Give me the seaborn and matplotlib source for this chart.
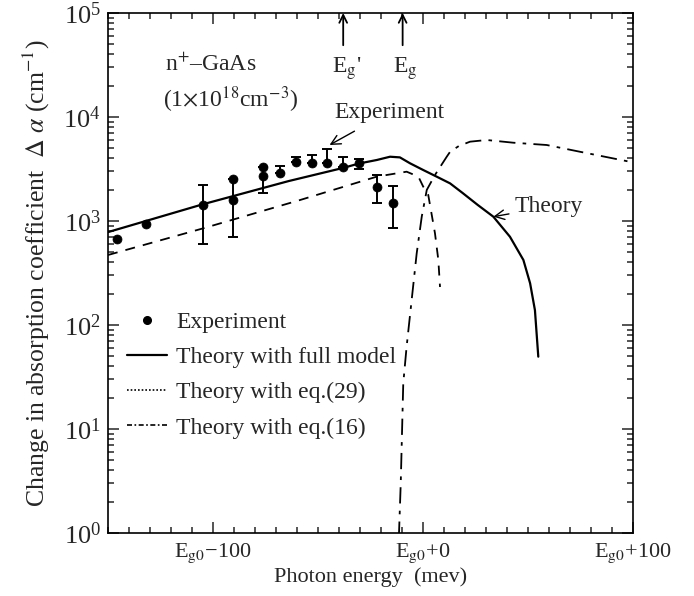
import matplotlib
matplotlib.use("Agg")
import matplotlib.pyplot as plt
import seaborn as sns
import pandas as pd
from matplotlib.lines import Line2D
from matplotlib.ticker import LogLocator, MultipleLocator, NullFormatter

# ---------------- data ----------------
# Theory with full model (solid)
full_x = [-150, -105, -64, -38, -30.5, -22, -15.7, -11, -6.2, 0, 6.5, 12.9, 19, 26, 33.5, 41.4, 47.8, 51, 53.3, 54.9]
full_y = [782, 1445, 2420, 3240, 3570, 3860, 4150, 4090, 3590, 3100, 2670, 2300, 1850, 1430, 1100, 706, 422, 252, 139, 49.6]

# Theory with eq.(29) (dashed)
eq29_x = [-150, -104.6, -58.6, -22, -7.8, -2.2, 0.1, 2.5, 5.7, 7.3, 8.1]
eq29_y = [471, 851, 1590, 2670, 2980, 2670, 2140, 1780, 762, 422, 232]

# Theory with eq.(16) (dash-dot)
eq16_x = [-11.5, -10.6, -10, -9.4, -7.8, -5.4, -3, -0.6, 1.8, 5.7, 11.3, 12.9, 17, 22.4, 30.3, 43, 58.9, 74.8, 98.6, 100]
eq16_y = [0.9, 3.0, 9.1, 27.5, 62, 174, 489, 1100, 1990, 2770, 4150, 4630, 5250, 5790, 6010, 5660, 5380, 4630, 3710, 3620]

# Experiment points
exp_x = [-145.6, -132, -104.6, -90.3, -90.3, -76, -76, -68.1, -60.7, -53, -45.9, -38, -30.3, -22, -14.4]
exp_y = [676, 929, 1425, 1590, 2520, 2710, 3330, 2910, 3690, 3590, 3640, 3330, 3590, 2140, 1480]

# Experimental error bars (x, lower, upper)
bar_x = [-104.6, -90.3, -76, -68.1, -60.7, -53, -45.9, -38, -30.3, -22, -14.4]
bar_lo = [597, 697, 1870, 2910, 3690, 3590, 3640, 3330, 3140, 1500, 851]
bar_hi = [2220, 2520, 3330, 3380, 4150, 4310, 4900, 4090, 3920, 2770, 2170]

# Band-gap markers
gap_x = [-38, -9.7]
gap_labels = ["E$_{\\mathrm{g}}$'", "E$_{\\mathrm{g}}$"]

x_ticks = [-100, 0, 100]
x_tick_labels = ["E$_{\\mathrm{g0}}$\u2212100", "E$_{\\mathrm{g0}}$+0", "E$_{\\mathrm{g0}}$+100"]

legend_labels = ["Experiment", "Theory with full model", "Theory with eq.(29)", "Theory with eq.(16)"]

# ---------------- style ----------------
sns.set_style("ticks")
plt.rcParams["font.family"] = ["Liberation Serif", "DejaVu Serif"]
plt.rcParams["mathtext.fontset"] = "stix"
plt.rcParams["axes.linewidth"] = 1.2

fig = plt.figure(figsize=(6.94, 5.96), dpi=100)
ax = fig.add_axes([108 / 694, 1 - 533 / 596, 525 / 694, 520 / 596])

df_full = pd.DataFrame({"x": full_x, "y": full_y})
df_29 = pd.DataFrame({"x": eq29_x, "y": eq29_y})
df_16 = pd.DataFrame({"x": eq16_x, "y": eq16_y})
df_exp = pd.DataFrame({"x": exp_x, "y": exp_y})

sns.lineplot(data=df_full, x="x", y="y", sort=False, estimator=None, color="black", lw=1.6, ax=ax)
sns.lineplot(data=df_29, x="x", y="y", sort=False, estimator=None, color="black", lw=1.3,
             linestyle=(0, (5.5, 4.5)), ax=ax)
sns.lineplot(data=df_16, x="x", y="y", sort=False, estimator=None, color="black", lw=1.3,
             linestyle=(0, (9, 4, 2, 4)), ax=ax)

mid = [(l + h) / 2 for l, h in zip(bar_lo, bar_hi)]
ax.errorbar(bar_x, mid, yerr=[[m - l for m, l in zip(mid, bar_lo)], [h - m for h, m in zip(bar_hi, mid)]],
            fmt="none", ecolor="black", elinewidth=1.4, capsize=3.5, capthick=1.4, zorder=3)
sns.scatterplot(data=df_exp, x="x", y="y", color="black", s=42, edgecolor="black", linewidth=0.5,
                zorder=4, ax=ax)

ax.set_yscale("log")
ax.set_xlim(-150, 100)
ax.set_ylim(1, 1e5)

ax.set_xticks(x_ticks)
ax.set_xticklabels(x_tick_labels)
ax.xaxis.set_minor_locator(MultipleLocator(10))
ax.yaxis.set_major_locator(LogLocator(base=10, numticks=10))
ax.yaxis.set_minor_locator(LogLocator(base=10, subs=range(2, 10), numticks=20))
ax.yaxis.set_minor_formatter(NullFormatter())

ax.tick_params(which="both", direction="in", top=True, right=True, width=1.1)
ax.tick_params(which="major", length=8, pad=6)
ax.tick_params(which="minor", length=4)
ax.tick_params(axis="x", labelsize=16)
ax.tick_params(axis="y", labelsize=19, pad=5)

ax.set_xlabel("Photon energy  (mev)", fontsize=16, labelpad=2)
ax.set_ylabel("Change in absorption coefficient  $\\Delta\\ \\alpha$ (cm$^{-1}$)", fontsize=18.5, labelpad=8)

for s in ax.spines.values():
    s.set_visible(True)
    s.set_color("black")

# annotations
ax.text(-122.9, 32000, "n$^{+}$\u2013GaAs", fontsize=17, ha="left", va="center")
ax.text(-123.8, 14500, "(1$\\times$10$^{18}$cm$^{-3}$)", fontsize=17, ha="left", va="center")

for gx, gl in zip(gap_x, gap_labels):
    ax.annotate("", xy=(gx, 1e5), xytext=(gx, 49000),
                arrowprops=dict(arrowstyle="->", lw=1.3, color="black", shrinkA=0, shrinkB=0,
                                mutation_scale=14))
    ax.text(gx + 1.5, 29000, gl, fontsize=17, ha="center", va="center")

ax.annotate("Experiment", xy=(-44.5, 5380), xytext=(-42.4, 11170), fontsize=17, ha="left", va="center",
            arrowprops=dict(arrowstyle="->", lw=1.0, color="black", shrinkA=8, shrinkB=0))
ax.annotate("Theory", xy=(33.5, 1100), xytext=(43.8, 1371), fontsize=17, ha="left", va="center",
            arrowprops=dict(arrowstyle="->", lw=1.0, color="black", shrinkA=2, shrinkB=0))

handles = [
    Line2D([], [], marker="o", color="black", linestyle="none", markersize=5.5),
    Line2D([], [], color="black", lw=1.6),
    Line2D([], [], color="black", lw=1.2, linestyle=(0, (1, 1.2))),
    Line2D([], [], color="black", lw=1.2, linestyle=(0, (3, 1.5, 1, 1.5))),
]
leg = ax.legend(handles, legend_labels, loc="center left", bbox_to_anchor=(0.036, 0.304),
                frameon=False, fontsize=17, handlelength=1.7, handletextpad=0.4,
                labelspacing=0.58, borderpad=0, borderaxespad=0)

fig.savefig("out.png", dpi=100)
